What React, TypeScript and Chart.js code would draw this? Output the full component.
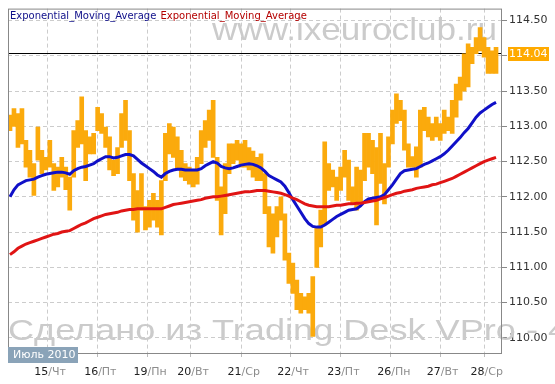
import { useEffect, useRef } from 'react';
import { Chart, registerables } from 'chart.js';
Chart.register(...registerables);

// ---- data ----
const dayTickPos = [9.5, 22, 34.4, 45.4, 58, 70.5, 83, 95.6, 108, 119];
const dayNums = ['15', '16', '19', '20', '21', '22', '23', '26', '27', '28'];
const weekDays = ['Чт', 'Пт', 'Пн', 'Вт', 'Ср', 'Чт', 'Пт', 'Пн', 'Вт', 'Ср'];
const yTicks = [110, 110.5, 111, 111.5, 112, 112.5, 113, 113.5, 114, 114.5];
const lastPrice = 114.04;
const monthLabel = 'Июль 2010';
const legendNames = ['Exponential_Moving_Average', 'Exponential_Moving_Average'];

const barHigh = [
  113.16, 113.25, 113.18, 113.25, 112.8, 112.66, 112.47, 112.99, 112.66, 112.56,
  112.8, 112.47, 112.42, 112.56, 112.42, 112.28, 112.94, 113.08, 113.42, 112.94,
  112.85, 112.9, 113.27, 113.18, 112.99, 112.85, 112.52, 112.7, 113.18, 113.37,
  112.94, 112.33, 112.09, 112.33, 111.86, 111.95, 112.05, 111.95, 112.23, 112.9,
  113.04, 112.99, 112.85, 112.66, 112.47, 112.42, 112.38, 112.56, 112.94, 113.08,
  113.23, 113.37, 112.56, 112.14, 112.47, 112.75, 112.75, 112.8, 112.75, 112.8,
  112.7, 112.65, 112.56, 112.61, 112.33, 111.86, 111.76, 111.86, 112.0, 111.76,
  111.2, 111.06, 110.82, 110.63, 110.58, 110.63, 110.87, 111.57, 111.81, 112.78,
  112.47, 112.38, 112.28, 112.42, 112.66, 112.52, 112.14, 112.42, 112.38, 112.9,
  112.9, 112.8, 112.7, 112.9, 112.47, 112.85, 113.23, 113.46, 113.37, 113.23,
  112.75, 112.57, 112.71, 113.23, 113.27, 113.13, 113.04, 113.13, 113.04, 113.23,
  113.13, 113.37, 113.6, 113.7, 114.03, 114.17, 114.12, 114.26, 114.4, 114.26,
  114.12, 114.07, 114.12,
];
const barLow = [
  112.94, 113.0, 112.7, 112.75, 112.42, 112.28, 112.02, 112.52, 112.33, 112.38,
  112.42, 112.09, 112.14, 112.28, 112.1, 111.81, 112.28, 112.7, 112.75, 112.23,
  112.61, 112.61, 112.94, 112.9, 112.7, 112.38, 112.3, 112.33, 112.7, 112.8,
  112.23, 111.67, 111.5, 111.81, 111.53, 111.57, 111.67, 111.57, 111.46, 112.23,
  112.61, 112.56, 112.38, 112.28, 112.23, 112.18, 112.14, 112.18, 112.47, 112.7,
  112.8, 112.56, 111.95, 111.46, 111.76, 112.33, 112.47, 112.52, 112.42, 112.42,
  112.38, 112.28, 112.23, 112.23, 111.76, 111.29, 111.2, 111.43, 111.67, 111.1,
  110.77, 110.63, 110.4, 110.35, 110.4, 110.35, 110.02, 111.0, 111.29, 111.6,
  112.09, 112.14, 111.95, 112.09, 112.28, 111.95, 111.9, 111.81, 111.9, 112.23,
  112.42, 112.33, 111.6, 112.19, 111.9, 112.42, 112.75, 113.04, 113.08, 112.66,
  112.42, 112.42, 112.28, 112.42, 112.94, 112.85, 112.8, 112.85, 112.8, 112.9,
  112.94, 112.9, 113.13, 113.37, 113.5, 113.56, 113.89, 114.03, 114.07, 113.98,
  113.75, 113.75, 113.75,
];
const emaFast = [
  112.0, 112.1, 112.17, 112.2, 112.23, 112.24, 112.25, 112.28, 112.3, 112.32,
  112.33, 112.34, 112.35, 112.35, 112.34, 112.32, 112.37, 112.4, 112.42, 112.43,
  112.45, 112.47, 112.51, 112.54, 112.57, 112.57, 112.55, 112.56, 112.58, 112.6,
  112.6, 112.58, 112.53, 112.48, 112.44, 112.4, 112.36, 112.31, 112.28, 112.33,
  112.36, 112.38, 112.39, 112.39, 112.38, 112.38, 112.38, 112.38, 112.4, 112.44,
  112.47, 112.5, 112.48, 112.43, 112.41, 112.4, 112.41, 112.43, 112.45, 112.46,
  112.47, 112.46, 112.44, 112.41, 112.36, 112.3, 112.27, 112.24, 112.21, 112.15,
  112.06, 111.96, 111.87, 111.78, 111.69, 111.62, 111.58, 111.57, 111.57, 111.6,
  111.64, 111.68, 111.72, 111.75, 111.78, 111.81, 111.82, 111.83, 111.87, 111.93,
  111.97, 111.98, 111.99, 112.0, 112.03, 112.1, 112.17, 112.25, 112.33, 112.37,
  112.38, 112.39, 112.4, 112.43, 112.46, 112.48, 112.51, 112.54, 112.57, 112.61,
  112.66, 112.72, 112.78, 112.84, 112.91, 112.97, 113.05, 113.13, 113.19, 113.23,
  113.27, 113.31, 113.34,
];
const emaSlow = [
  111.18, 111.22, 111.27, 111.3, 111.33, 111.35, 111.37, 111.39, 111.41, 111.43,
  111.45, 111.47, 111.48, 111.5, 111.51, 111.52, 111.55, 111.58, 111.61, 111.63,
  111.66, 111.69, 111.71, 111.73, 111.75, 111.76, 111.77, 111.78, 111.8, 111.81,
  111.82, 111.82, 111.83, 111.83, 111.83, 111.83, 111.83, 111.83, 111.83, 111.85,
  111.87, 111.89, 111.9, 111.91, 111.92, 111.93, 111.94, 111.95, 111.96, 111.98,
  111.99, 112.0, 112.0, 112.01, 112.02, 112.03, 112.04, 112.05, 112.06, 112.07,
  112.07, 112.08, 112.09, 112.09, 112.09, 112.08, 112.07, 112.06, 112.05, 112.03,
  112.01, 111.98, 111.96, 111.93, 111.9, 111.88, 111.87, 111.86, 111.86, 111.86,
  111.86, 111.87, 111.88, 111.88, 111.89, 111.9, 111.9, 111.91, 111.91, 111.92,
  111.93, 111.94, 111.95, 111.97, 111.99, 112.01, 112.03, 112.05, 112.06, 112.08,
  112.09, 112.1, 112.12, 112.13, 112.14, 112.15, 112.17, 112.18, 112.2, 112.22,
  112.24, 112.26, 112.29, 112.32, 112.35, 112.38, 112.41, 112.44, 112.47, 112.5,
  112.52, 112.54, 112.56,
];

const FONT = '"DejaVu Sans", Verdana, sans-serif';
const WFONT = '"Liberation Sans", Arial, sans-serif';

export default function App() {
  const ref = useRef<HTMLCanvasElement>(null);

  useEffect(() => {
    const canvas = ref.current;
    if (!canvas) return;

    const overlay = {
      id: 'overlay',
      beforeDatasetsDraw(chart: any) {
        const ctx = chart.ctx as CanvasRenderingContext2D;
        const { left, right } = chart.chartArea;
        ctx.save();
        ctx.fillStyle = '#cbcbcb';
        ctx.textBaseline = 'alphabetic';
        ctx.textAlign = 'left';
        // top watermark
        ctx.font = `32px ${WFONT}`;
        const topText = 'www.ixeuroclub.ru';
        const tw = ctx.measureText(topText).width;
        ctx.save();
        ctx.translate(212, 40);
        ctx.scale(285 / tw, 1);
        ctx.fillText(topText, 0, 0);
        ctx.restore();
        // bottom watermark
        ctx.font = `30px ${WFONT}`;
        const prefix = 'Сделано из Trading Desk VPro - ';
        const pw = ctx.measureText(prefix).width;
        ctx.save();
        ctx.translate(8, 340);
        ctx.scale(540 / pw, 1);
        ctx.fillText(prefix + '4', 0, 0);
        ctx.restore();
        // last price line
        const y = Math.round(chart.scales.y.getPixelForValue(lastPrice)) + 0.5;
        ctx.strokeStyle = '#000';
        ctx.lineWidth = 1;
        ctx.beginPath();
        ctx.moveTo(left, y);
        ctx.lineTo(right, y);
        ctx.stroke();
        ctx.restore();
      },
      afterDatasetsDraw(chart: any) {
        const ctx = chart.ctx as CanvasRenderingContext2D;
        ctx.save();
        ctx.font = `10px ${FONT}`;
        ctx.textBaseline = 'alphabetic';
        ctx.textAlign = 'left';
        ctx.fillStyle = '#10108a';
        ctx.fillText(legendNames[0], 10, 18.5);
        const w1 = ctx.measureText(legendNames[0] + ' ').width;
        ctx.fillStyle = '#b40000';
        ctx.fillText(legendNames[1], 10 + w1 + 1, 18.5);
        ctx.restore();
      },
      afterDraw(chart: any) {
        const ctx = chart.ctx as CanvasRenderingContext2D;
        const { left, top, right, bottom } = chart.chartArea;
        ctx.save();
        // frame
        ctx.strokeStyle = '#888';
        ctx.lineWidth = 1;
        ctx.strokeRect(left + 0.5, top + 0.5, right - left - 1, bottom - top - 1);
        // month box
        ctx.fillStyle = '#8aa3b8';
        ctx.fillRect(8, 347, 70, 16);
        ctx.fillStyle = '#fff';
        ctx.font = `11px ${FONT}`;
        ctx.textBaseline = 'middle';
        ctx.textAlign = 'left';
        ctx.fillText(monthLabel, 13, 355.5);
        // x labels
        const xs = chart.scales.x;
        dayTickPos.forEach((p, i) => {
          const px = xs.getPixelForValue(p) + 0.5;
          ctx.textAlign = 'right';
          ctx.fillStyle = '#222';
          ctx.fillText(dayNums[i], px, 372);
          ctx.textAlign = 'left';
          ctx.fillStyle = '#8c8c8c';
          ctx.fillText('/' + weekDays[i], px, 372);
        });
        // last price box
        const y = Math.round(chart.scales.y.getPixelForValue(lastPrice));
        ctx.fillStyle = '#ffaa00';
        ctx.fillRect(508, y - 6, 41, 14);
        ctx.fillStyle = '#fff';
        ctx.textAlign = 'left';
        ctx.fillText(lastPrice.toFixed(2), 509, y + 1);
        ctx.restore();
      },
    };

    const chart = new Chart(canvas, {
      type: 'bar',
      data: {
        datasets: [
          {
            type: 'line',
            label: 'EMA slow',
            data: emaSlow.map((v, i) => ({ x: i, y: v })),
            borderColor: '#e01414',
            borderWidth: 3,
            pointRadius: 0,
            tension: 0,
            order: 0,
          } as any,
          {
            type: 'line',
            label: 'EMA fast',
            data: emaFast.map((v, i) => ({ x: i, y: v })),
            borderColor: '#1010c8',
            borderWidth: 3,
            pointRadius: 0,
            tension: 0,
            order: 1,
          } as any,
          {
            type: 'bar',
            label: 'Price',
            data: barLow.map((l, i) => ({ x: i, y: [l, barHigh[i]] })),
            backgroundColor: '#fbaa0c',
            barThickness: 4,
            order: 2,
          } as any,
        ],
      },
      options: {
        animation: false,
        responsive: false,
        maintainAspectRatio: false,
        layout: { padding: { left: 8, top: 8, right: 0, bottom: 0 } },
        plugins: { legend: { display: false }, tooltip: { enabled: false } },
        scales: {
          x: {
            type: 'linear',
            min: -0.5,
            max: 123.5,
            offset: false,
            afterBuildTicks: (s: any) => {
              s.ticks = dayTickPos.map((v) => ({ value: v }));
            },
            afterFit: (s: any) => {
              s.height = 30;
            },
            ticks: { callback: () => '', autoSkip: false },
            grid: {
              color: '#cccccc',
              tickLength: 5,
              tickColor: '#bbbbbb',
              tickBorderDash: [3, 3],
              offset: false,
            },
            border: { display: false, dash: [4, 3] },
          },
          y: {
            type: 'linear',
            position: 'right',
            min: 109.77,
            max: 114.67,
            afterBuildTicks: (s: any) => {
              s.ticks = yTicks.map((v) => ({ value: v }));
            },
            afterFit: (s: any) => {
              s.width = 53;
            },
            ticks: {
              callback: (v: any) => Number(v).toFixed(2),
              color: '#333',
              font: { family: FONT, size: 11 },
              padding: 2,
              autoSkip: false,
            },
            grid: {
              color: '#cccccc',
              tickLength: 5,
              tickColor: '#888',
            },
            border: { display: false, dash: [4, 3] },
          },
        },
      } as any,
      plugins: [overlay],
    });

    return () => chart.destroy();
  }, []);

  return (
    <div style={{ position: 'absolute', left: 0, top: 0, width: 555, height: 384, background: '#fff' }}>
      <canvas ref={ref} width={555} height={384} style={{ display: 'block', width: 555, height: 384 }} />
    </div>
  );
}
